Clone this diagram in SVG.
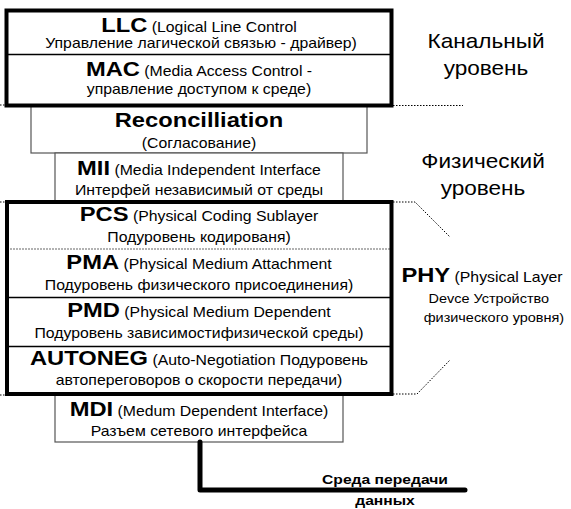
<svg xmlns="http://www.w3.org/2000/svg" width="571" height="509" viewBox="0 0 571 509">
<style>
text{font-family:"Liberation Sans",Arial,sans-serif;fill:#000;text-anchor:middle;}
.t{font-size:14px;}
.b{font-size:21px;font-weight:bold;}
.s{font-size:14px;font-weight:normal;}
.side{font-size:20px;}
.p{font-size:12.8px;}
.m{font-size:13.5px;font-weight:bold;}
.thin{fill:#fff;stroke:#555;stroke-width:1.2;}
.thick{fill:none;stroke:#000;stroke-width:4;}
.div{stroke:#000;stroke-width:1.3;}
.dot{fill:none;stroke:#000;stroke-width:1;stroke-dasharray:1.5 1.5;}
</style>
<g id="reconcilliation">
<rect class="thin" x="31" y="105" width="336" height="48"/>
<g transform="matrix(1.13 0 0 1 199 0)">
<text class="t" x="0" y="127"><tspan class="b">Reconcilliation</tspan></text>
<text class="t" x="0" y="148">(Согласование)</text>
</g>
</g>
<g id="mii">
<rect class="thin" x="55" y="153" width="288" height="49"/>
<g transform="matrix(1.13 0 0 1 199 0)">
<text class="t" x="0" y="175"><tspan class="b">MII</tspan><tspan class="s"> (Media Independent Interface</tspan></text>
<text class="t" x="0" y="195">Интерфей независимый от среды</text>
</g>
</g>
<g id="mdi">
<rect class="thin" x="55" y="394" width="288" height="48"/>
<g transform="matrix(1.13 0 0 1 199 0)">
<text class="t" x="0" y="416"><tspan class="b">MDI</tspan><tspan class="s"> (Medum Dependent Interface)</tspan></text>
<text class="t" x="0" y="436">Разъем сетевого интерфейса</text>
</g>
</g>
<g id="datalink">
<rect x="6.5" y="10.5" width="385" height="95" fill="#fff" stroke="none"/>
<line class="div" x1="7" y1="54.5" x2="391" y2="54.5"/>
<rect class="thick" x="6.5" y="10.5" width="385" height="95"/>
<g id="llc" transform="matrix(1.13 0 0 1 199 0)">
<text class="t" x="0" y="32"><tspan class="b">LLC</tspan><tspan class="s"> (Logical Line Control</tspan></text>
<text class="t" x="1.8" y="48.5">Управление лагической связью - драйвер)</text>
</g>
<g id="mac" transform="matrix(1.13 0 0 1 199 0)">
<text class="t" x="0" y="76"><tspan class="b">MAC</tspan><tspan class="s"> (Media Access Control -</tspan></text>
<text class="t" x="0" y="94">управление доступом к среде)</text>
</g>
</g>
<g id="phy-block">
<rect x="7" y="202" width="384.5" height="192" fill="#fff" stroke="none"/>
<line x1="7" y1="249" x2="391" y2="249" stroke="#666" stroke-width="1.2" stroke-dasharray="2 1"/>
<line class="div" x1="7" y1="297.5" x2="391" y2="297.5"/>
<line class="div" x1="7" y1="346.5" x2="391" y2="346.5"/>
<rect class="thick" x="7" y="202" width="384.5" height="192"/>
<g id="pcs" transform="matrix(1.13 0 0 1 199 0)">
<text class="t" x="0" y="221"><tspan class="b">PCS</tspan><tspan class="s"> (Physical Coding Sublayer</tspan></text>
<text class="t" x="0" y="242">Подуровень кодированя)</text>
</g>
<g id="pma" transform="matrix(1.13 0 0 1 199 0)">
<text class="t" x="0" y="269"><tspan class="b">PMA</tspan><tspan class="s"> (Physical Medium Attachment</tspan></text>
<text class="t" x="0" y="290">Подуровень физического присоединения)</text>
</g>
<g id="pmd" transform="matrix(1.13 0 0 1 199 0)">
<text class="t" x="0" y="317"><tspan class="b">PMD</tspan><tspan class="s"> (Physical Medium Dependent</tspan></text>
<text class="t" x="0" y="338">Подуровень зависимостифизической среды)</text>
</g>
<g id="autoneg" transform="matrix(1.13 0 0 1 199 0)">
<text class="t" x="0" y="365"><tspan class="b">AUTONEG</tspan><tspan class="s"> (Auto-Negotiation Подуровень</tspan></text>
<text class="t" x="0" y="385">автопереговоров о скорости передачи)</text>
</g>
</g>
<g id="connectors">
<polyline class="dot" points="0,105 5,105"/>
<polyline class="dot" points="393,105.5 463,105.5"/>
<polyline class="dot" points="0,202 5,202"/>
<polyline class="dot" points="393,202 415,202 450,237"/>
<polyline class="dot" points="0,395 5,395"/>
<polyline class="dot" points="393,394 417,394 450,360"/>
<polyline points="200,442 200,490 465,490" fill="none" stroke="#000" stroke-width="5" stroke-linecap="round" stroke-linejoin="round"/>
</g>
<g id="labels">
<g transform="matrix(1.13 0 0 1 486 0)">
<text class="side" x="0" y="48">Канальный</text>
<text class="side" x="0" y="75">уровень</text>
</g>
<g transform="matrix(1.13 0 0 1 483 0)">
<text class="side" x="0" y="168">Физический</text>
<text class="side" x="0" y="195">уровень</text>
</g>
<g id="phy" transform="matrix(1.13 0 0 1 482 0)">
<text class="t" x="0" y="282"><tspan class="b">PHY</tspan><tspan class="s"> (Physical Layer</tspan></text>
<text class="p" x="6" y="303">Devce Устройство</text>
<text class="p" x="10.5" y="322">физического уровня)</text>
</g>
<g id="medium" transform="matrix(1.16 0 0 1 385 0)">
<text class="m" x="0" y="484">Среда передачи</text>
<text class="m" x="0" y="505">данных</text>
</g>
</g>
</svg>
